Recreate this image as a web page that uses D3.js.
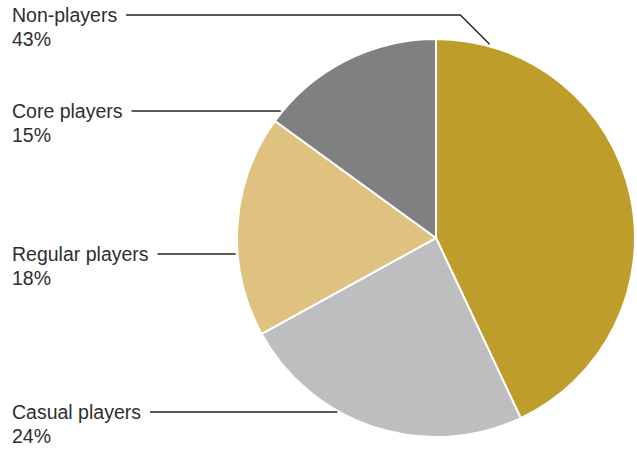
<!DOCTYPE html>
<html>
<head>
<meta charset="utf-8">
<script src="https://cdn.jsdelivr.net/npm/d3@7"></script>
<style>
  html, body { margin: 0; padding: 0; background: #fff; }
  svg text { font-family: "Liberation Sans", Arial, sans-serif; font-size: 19.5px; fill: #2e2e2e; }
</style>
</head>
<body>
<svg id="chart" width="637" height="453"></svg>
<script>
// Player segments, in clockwise order from 12 o'clock
const categories = ["Non-players", "Casual players", "Regular players", "Core players"];
const shares = [43, 24, 18, 15];
const colors = ["#bf9d2b", "#bebec1", "#dfc280", "#808083"];

// Label placement (left column), by category
const labelRows = { "Non-players": 15, "Core players": 111, "Regular players": 254, "Casual players": 412 };

const width = 637, height = 453;
const cx = 436, cy = 238, radius = 199;

const svg = d3.select("#chart");
const data = categories.map((c, i) => ({ name: c, value: shares[i], color: colors[i] }));

const pie = d3.pie().value(d => d.value).sort(null);
const arc = d3.arc().innerRadius(0).outerRadius(radius);
const arcs = pie(data);

const g = svg.append("g").attr("transform", `translate(${cx},${cy})`);
g.selectAll("path")
  .data(arcs)
  .join("path")
  .attr("d", arc)
  .attr("fill", d => d.data.color)
  .attr("stroke", "#fff")
  .attr("stroke-width", 2);

// Labels with leader lines
const labels = svg.append("g");
data.forEach(d => {
  const y = labelRows[d.name];
  const t = labels.append("text")
    .attr("x", 12)
    .attr("y", y + 7);
  t.append("tspan").attr("x", 12).text(d.name);
  t.append("tspan").attr("x", 12).attr("dy", 24).text(d.value + "%");

  const textW = t.select("tspan").node().getComputedTextLength();
  const x0 = 12 + textW + 9;
  let pts;
  if (d.name === "Non-players") {
    // elbow down to the slice's top rim
    const ang = 0.27;
    const r2 = radius + 2;
    const ex = cx + r2 * Math.sin(ang), ey = cy - r2 * Math.cos(ang);
    pts = [[x0, y], [ex - (ey - y), y], [ex, ey]];
  } else {
    const dy = y - cy;
    const ex = cx - Math.sqrt(radius * radius - dy * dy) - 2;
    pts = [[x0, y], [ex, y]];
  }
  labels.append("path")
    .attr("d", d3.line()(pts))
    .attr("fill", "none")
    .attr("stroke", "#222")
    .attr("stroke-width", 1.3);
});
</script>
</body>
</html>
